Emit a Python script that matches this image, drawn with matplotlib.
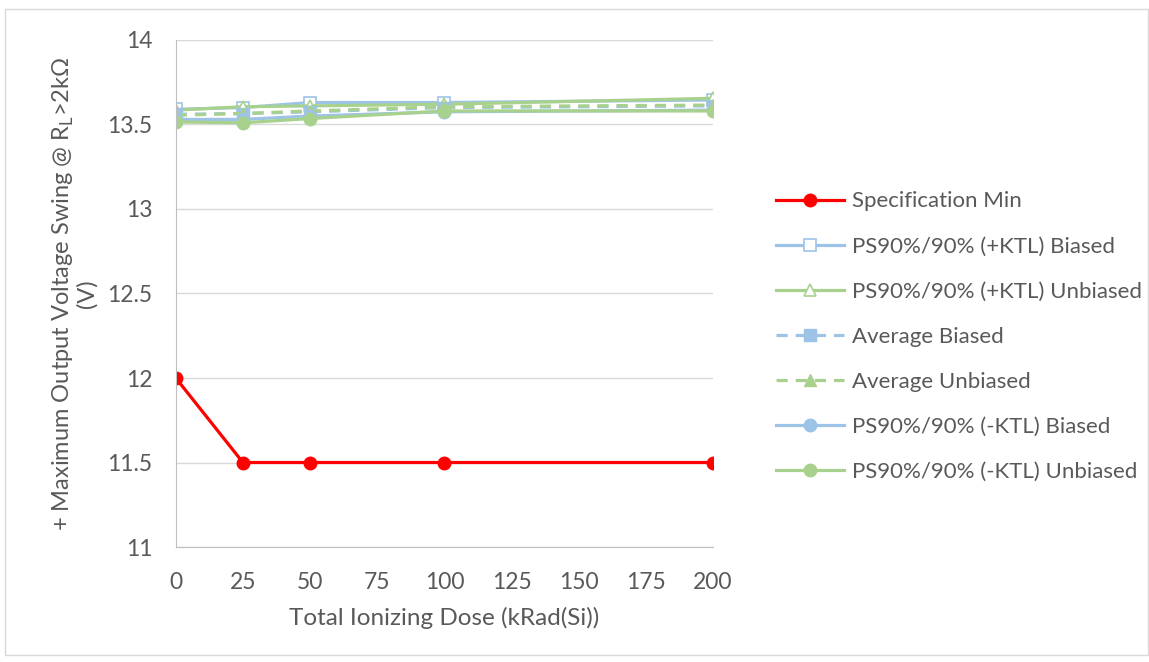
import matplotlib.pyplot as plt
from matplotlib.patches import Rectangle

plt.rcParams['font.family'] = ['Lato', 'DejaVu Sans']

dose = [0, 25, 50, 100, 200]
spec_min = [12, 11.5, 11.5, 11.5, 11.5]
pktl_biased = [13.59, 13.60, 13.63, 13.63, 13.645]
pktl_unbiased = [13.585, 13.605, 13.61, 13.62, 13.655]
avg_biased = [13.56, 13.565, 13.575, 13.60, 13.61]
avg_unbiased = [13.555, 13.565, 13.58, 13.605, 13.615]
nktl_biased = [13.53, 13.53, 13.55, 13.575, 13.585]
nktl_unbiased = [13.515, 13.51, 13.535, 13.58, 13.58]

red = '#FF0000'
blue = '#9DC3E6'
green = '#A9D18E'
txt = '#595959'

fig = plt.figure(figsize=(11.49, 6.62), dpi=100)
ax = fig.add_axes([0.153, 0.1737, 0.4675, 0.7659])

lw = 2.3
ax.plot(dose, spec_min, color=red, lw=lw, marker='o', ms=9, label='Specification Min')
ax.plot(dose, pktl_biased, color=blue, lw=lw, marker='s', ms=9, mfc='white', mec=blue,
        mew=1.2, label='PS90%/90% (+KTL) Biased')
ax.plot(dose, pktl_unbiased, color=green, lw=lw, marker='^', ms=9, mfc='white', mec=green,
        mew=1.2, label='PS90%/90% (+KTL) Unbiased')
ax.plot(dose, avg_biased, color=blue, lw=lw, ls=(0, (3.5, 2.5)), marker='s', ms=8,
        label='Average Biased')
ax.plot(dose, avg_unbiased, color=green, lw=lw, ls=(0, (3.5, 2.5)), marker='^', ms=8,
        label='Average Unbiased')
ax.plot(dose, nktl_biased, color=blue, lw=lw, marker='o', ms=9, label='PS90%/90% (-KTL) Biased')
ax.plot(dose, nktl_unbiased, color=green, lw=lw, marker='o', ms=9,
        label='PS90%/90% (-KTL) Unbiased')

ax.set_xlim(0, 200)
ax.set_ylim(11, 14)
ax.set_xticks(range(0, 201, 25))
ax.set_yticks([11, 11.5, 12, 12.5, 13, 13.5, 14])
ax.set_yticklabels(['11', '11.5', '12', '12.5', '13', '13.5', '14'])
ax.grid(axis='y', color='#D9D9D9', lw=1)
ax.set_axisbelow(True)
for s in ['top', 'right']:
    ax.spines[s].set_visible(False)
for s in ['left', 'bottom']:
    ax.spines[s].set_color('#BFBFBF')
ax.tick_params(axis='y', length=0, labelsize=16.5, labelcolor=txt, pad=17)
ax.tick_params(axis='x', length=0, labelsize=16.5, labelcolor=txt, pad=18)

ax.set_xlabel('Total Ionizing Dose (kRad(Si))', fontsize=17.5, color=txt, labelpad=10)
ax.set_ylabel('+ Maximum Output Voltage Swing @ R$_\\mathregular{L}$>2kΩ\n(V)',
              fontsize=17, color=txt, labelpad=7, linespacing=1.0,
              multialignment='center')

fig.legend(loc='upper left', bbox_to_anchor=(0.658, 0.741), frameon=False, fontsize=16,
           labelcolor=txt, handlelength=3.06, handletextpad=0.36, labelspacing=1.13)

fig.patches.append(Rectangle((0.004, 0.01), 0.995, 0.977, transform=fig.transFigure,
                             fill=False, ec='#D9D9D9', lw=1))

fig.savefig('out.png', dpi=100)
